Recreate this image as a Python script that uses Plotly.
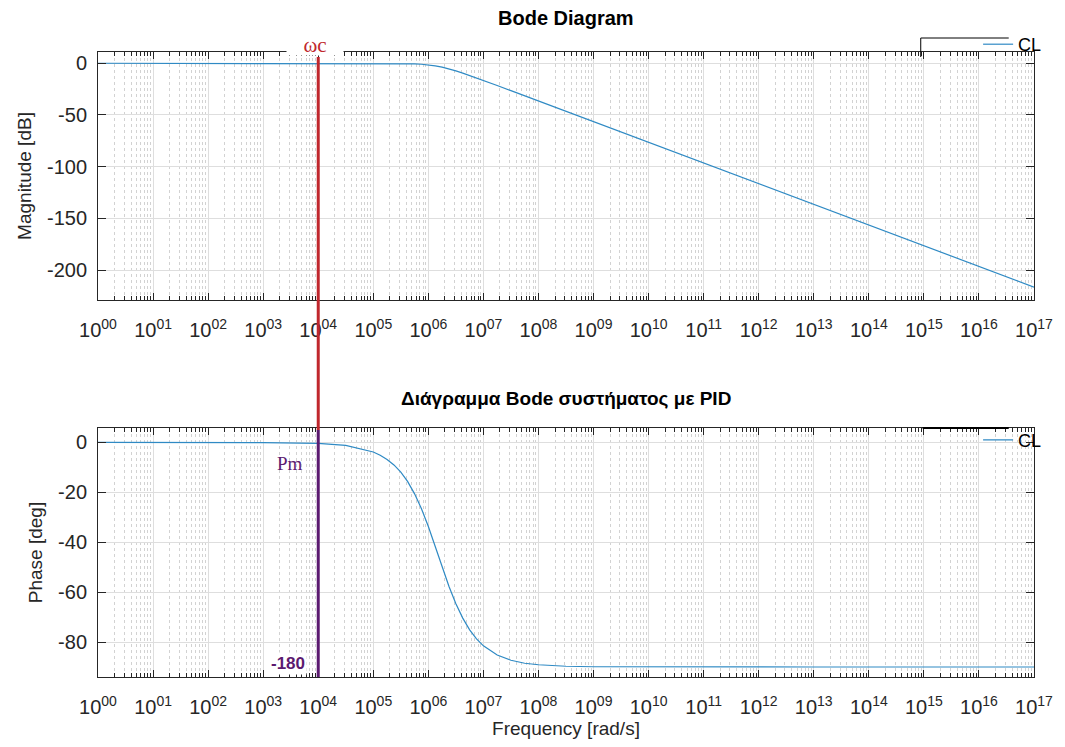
import math
import plotly.graph_objects as go

# Closed-loop frequency response samples (rad/s, dB, deg)
freq = [1e0, 1e1, 1e2, 1e3, 1e4, 3.16e4, 1e5, 1.334e5, 1.778e5, 2.371e5, 3.162e5,
        4.217e5, 5.623e5, 7.499e5, 1e6, 1.334e6, 1.778e6, 2.371e6, 3.162e6, 4.217e6,
        5.623e6, 7.499e6, 1e7, 1.778e7, 3.162e7, 5.623e7, 1e8, 3.162e8,
        1e9, 1e10, 1e11, 1e12, 1e13, 1e14, 1e15, 1e16, 1e17]
magnitude_db = [0, 0, 0, 0, 0, 0, -0.02, -0.03, -0.06, -0.11, -0.19,
                -0.33, -0.57, -0.97, -1.6, -2.5, -3.8, -5.4, -7.4, -9.5,
                -11.8, -14.2, -16.6, -21.5, -26.5, -31.5, -36.5, -46.5,
                -56.5, -76.5, -96.5, -116.5, -136.5, -156.5, -176.5, -196.5, -216.5]
phase_deg = [0, 0, 0, -0.1, -0.4, -1.2, -3.8, -5.1, -6.8, -9.0, -11.9,
             -15.7, -20.6, -26.6, -33.7, -41.6, -49.8, -57.7, -64.6, -70.4,
             -75.1, -78.7, -81.5, -85.2, -87.3, -88.5, -89.1, -89.7,
             -89.9, -90, -90, -90, -90, -90, -90, -90, -90]

wc = 1e4  # crossover frequency marker
decades = list(range(0, 18))
x_tick_vals = [10 ** k for k in decades]
x_tick_text = [f"10<sup>{k:02d}</sup>" for k in decades]
x_minor_vals = [m * 10 ** k for k in range(0, 17) for m in range(2, 10)]
mag_ticks = [0, -50, -100, -150, -200]
phase_ticks = [0, -20, -40, -60, -80]

FONT = "Liberation Sans, Arial, sans-serif"
SERIF = "Liberation Serif, DejaVu Serif, serif"
AX = "#262626"
LINE = "#2f8ac4"
RED = "#c0272d"
PURPLE = "#5b1a70"

fig = go.Figure()
fig.add_trace(go.Scatter(x=freq, y=magnitude_db, mode="lines", name="CL",
                         line=dict(color=LINE, width=1.2), xaxis="x", yaxis="y",
                         legend="legend"))
fig.add_trace(go.Scatter(x=freq, y=phase_deg, mode="lines", name="CL",
                         line=dict(color=LINE, width=1.2), xaxis="x2", yaxis="y2",
                         legend="legend2"))

def xaxis_style(anchor, title=None):
    d = dict(type="log", range=[0, 17], anchor=anchor,
             tickmode="array", tickvals=x_tick_vals, ticktext=x_tick_text,
             ticks="inside", ticklen=7, tickcolor=AX, ticklabelstandoff=12,
             showline=True, linecolor=AX, linewidth=1, mirror="allticks",
             showgrid=True, gridcolor="#dedede", gridwidth=1,
             tickfont=dict(family=FONT, size=20, color=AX),
             minor=dict(tickmode="array", tickvals=x_minor_vals, ticks="inside",
                        ticklen=4, tickcolor=AX, showgrid=True,
                        gridcolor="#d2d2d2", griddash="dot", gridwidth=1),
             zeroline=False)
    if title:
        d["title"] = dict(text=title, font=dict(family=FONT, size=19, color=AX), standoff=4)
    return d

def yaxis_style(anchor, domain, rng, ticks, title):
    return dict(domain=domain, range=rng, anchor=anchor,
                tickmode="array", tickvals=ticks, ticktext=[str(v) for v in ticks],
                ticks="inside", ticklen=8, tickcolor=AX, ticklabelstandoff=6,
                showline=True, linecolor=AX, linewidth=1, mirror="allticks",
                showgrid=True, gridcolor="#dedede", gridwidth=1, zeroline=False,
                tickfont=dict(family=FONT, size=20, color=AX),
                title=dict(text=title, font=dict(family=FONT, size=19, color=AX), standoff=10))

fig.update_layout(
    width=1065, height=747,
    margin=dict(l=98, r=28, t=52, b=70),
    paper_bgcolor="white", plot_bgcolor="white",
    xaxis=xaxis_style("y"),
    yaxis=yaxis_style("x", [0.6032, 1.0], [-229, 10.9], mag_ticks, "Magnitude [dB]"),
    xaxis2=xaxis_style("y2", "Frequency [rad/s]"),
    yaxis2=yaxis_style("x2", [0.0, 0.3984], [-94.0, 5.8], phase_ticks, "Phase [deg]"),
    legend=dict(x=1.014, xanchor="right", y=1.012, yanchor="middle",
                font=dict(family=FONT, size=18, color="black"),
                bgcolor="rgba(0,0,0,0)", itemwidth=30, tracegroupgap=0),
    legend2=dict(x=1.014, xanchor="right", y=0.379, yanchor="middle",
                 font=dict(family=FONT, size=18, color="black"),
                 bgcolor="rgba(0,0,0,0)", itemwidth=30, tracegroupgap=0),
    showlegend=True,
)

# Subplot titles
fig.add_annotation(text="<b>Bode Diagram</b>", xref="paper", yref="paper",
                   x=0.5, y=1.0, yshift=34, showarrow=False, yanchor="middle",
                   font=dict(family=FONT, size=20, color="black"))
fig.add_annotation(text="<b>Διάγραμμα Bode συστήματος με PID</b>", xref="paper", yref="paper",
                   x=0.5, y=0.3984, yshift=30, showarrow=False, yanchor="middle",
                   font=dict(family=FONT, size=19, color="black"))

# Crossover marker lines
fig.add_shape(type="line", xref="x", yref="paper", x0=wc, x1=wc, y0=0.3952, y1=0.992,
              line=dict(color=RED, width=3), layer="above")
fig.add_shape(type="line", xref="x", yref="paper", x0=wc, x1=wc, y0=0.0, y1=0.3952,
              line=dict(color=PURPLE, width=3), layer="above")

lw = math.log10(wc)
fig.add_annotation(text="ωc", xref="x", yref="paper", x=lw - 0.05, y=1.0112,
                   yanchor="middle", showarrow=False, bgcolor="white",
                   width=56, height=20, borderpad=0,
                   font=dict(family=SERIF, size=21, color=RED))
fig.add_annotation(text="Pm", xref="x2", yref="paper", x=lw - 0.52, y=0.3424,
                   yanchor="middle", showarrow=False,
                   font=dict(family=SERIF, size=19, color=PURPLE))
fig.add_annotation(text="<b>-180</b>", xref="x2", yref="paper", x=lw - 0.55, y=0.0224,
                   yanchor="middle", showarrow=False, bgcolor="white",
                   font=dict(family=FONT, size=17, color=PURPLE))

# Legend frame remnants
fig.add_shape(type="line", xref="paper", yref="paper", x0=0.879, x1=0.973,
              y0=1.0224, y1=1.0224, line=dict(color="black", width=1))
fig.add_shape(type="line", xref="paper", yref="paper", x0=0.879, x1=0.879,
              y0=1.0224, y1=0.992, line=dict(color="black", width=1))
fig.add_shape(type="line", xref="paper", yref="paper", x0=0.881, x1=0.973,
              y0=0.3984, y1=0.3984, line=dict(color="black", width=2))

fig.write_html("out.html")
